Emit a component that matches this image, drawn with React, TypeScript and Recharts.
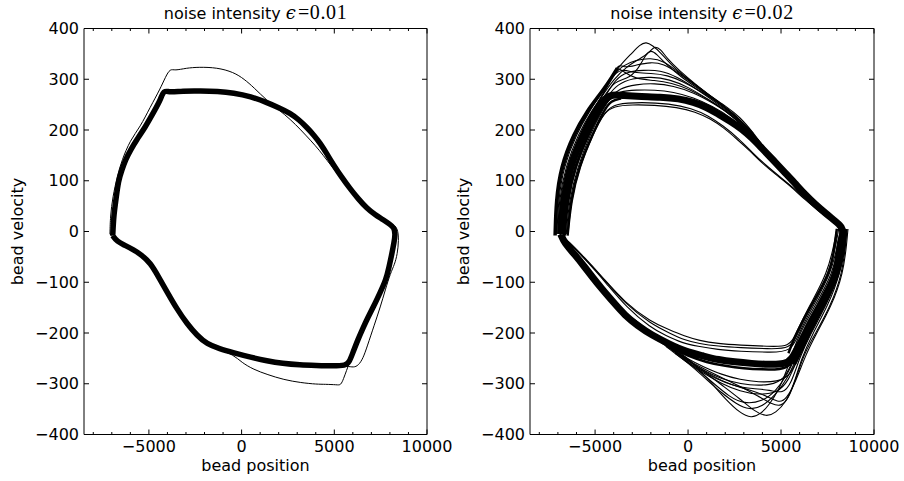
import React from 'react';
import { LineChart, Line, XAxis, YAxis } from 'recharts';

type Pt = [number, number];

// axis values
const xTicks = [-8000, -7000, -6000, -5000, -4000, -3000, -2000, -1000, 0, 1000, 2000, 3000, 4000, 5000, 6000, 7000, 8000, 9000, 10000];
const xLabelled = [-5000, 0, 5000, 10000];
const yTicks = [-400, -300, -200, -100, 0, 100, 200, 300, 400];
const xDomain = [-8500, 10000];
const yDomain = [-400, 400];

// ---- noise 0.01 : settled cycle (drawn thick) and the stray passes
const lowBand: Pt[] = [
  [-6950, -8], [-6900, 30], [-6780, 62], [-6640, 101], [-6450, 122], [-6270, 141], [-5970, 162], [-5670, 180],
  [-5190, 206], [-4700, 238], [-4380, 259], [-4200, 279], [-3900, 274], [-3200, 277], [-2200, 277], [-1300, 276],
  [-430, 273], [500, 266], [1370, 254], [2000, 244], [2625, 233], [3100, 220], [3525, 205], [3900, 190],
  [4240, 174], [4600, 153], [4960, 131], [5400, 107], [5860, 84], [6300, 64], [6750, 46], [7200, 33],
  [7650, 23], [8000, 14], [8220, 8], [8290, -5], [8230, -20], [8100, -45], [7950, -70], [7790, -95],
  [7450, -122], [7115, -148], [6800, -170], [6575, -188], [6260, -214], [5990, -240], [5800, -258], [5600, -264],
  [4960, -265], [4000, -264], [3160, -263], [2200, -260], [1370, -255], [500, -248], [-430, -239], [-1200, -231],
  [-1865, -222], [-2400, -205], [-2940, -182], [-3500, -152], [-4020, -119], [-4500, -88], [-4920, -62], [-5400, -46],
  [-5830, -36], [-6300, -27], [-6715, -20], [-6950, -8],
];
const lowStray: Pt[] = [
  [-7100, -5], [-7080, 30], [-6950, 68], [-6700, 110], [-6460, 140], [-6010, 180], [-5470, 206], [-4930, 245],
  [-4390, 281], [-4100, 305], [-3850, 321], [-3600, 317], [-3000, 322], [-2300, 324], [-1330, 323], [-430, 314],
  [150, 300], [650, 284], [1370, 258], [2000, 240], [2630, 221], [3200, 200], [3710, 180], [4200, 160],
  [4610, 140], [5000, 122], [5500, 98], [5900, 80], [6400, 60], [6900, 42], [7400, 28], [7900, 18],
  [8300, 10], [8360, -8], [8280, -25], [8050, -62], [7800, -98], [7450, -125], [7100, -150], [6700, -177],
  [6350, -208], [6050, -235], [5850, -255], [5650, -275], [5500, -290], [5350, -303], [5150, -302], [4500, -301],
  [4070, -301], [3200, -298], [2270, -292], [1400, -282], [650, -272], [0, -258], [-430, -243], [-1200, -233],
  [-1865, -223], [-2400, -206], [-2940, -184], [-3500, -154], [-4020, -121], [-4500, -90], [-4920, -64], [-5400, -48],
  [-5830, -38], [-6300, -29], [-6715, -21], [-7100, -5],
];
const lowStrayRight: Pt[] = [
  [7650, 23], [8100, 15], [8420, 8], [8480, -17], [8400, -45], [8250, -65], [8030, -82], [7750, -115],
  [7490, -148], [7150, -185], [6770, -227], [6550, -250], [6300, -264], [6040, -268], [5700, -265], [5000, -266],
];

// ---- noise 0.02 : main band plus the spread of individual passes
const highBand: Pt[] = [
  [-6850, -5], [-6780, 30], [-6680, 62], [-6500, 95], [-6330, 127], [-6000, 160], [-5610, 193], [-5280, 218],
  [-4940, 239], [-4480, 262], [-4100, 270], [-3500, 268], [-2500, 266], [-1500, 265], [-500, 262], [300, 255],
  [1000, 245], [1630, 231], [2300, 217], [2890, 202], [3450, 184], [3970, 164], [4600, 140], [5230, 115],
  [5800, 93], [6310, 72], [6850, 53], [7390, 36], [7900, 21], [8290, 9], [8350, -5], [8200, -17],
  [8100, -50], [7960, -83], [7550, -115], [7065, -148], [6650, -175], [6290, -201], [6050, -220], [5820, -234],
  [5600, -250], [5230, -262], [4300, -262], [3430, -260], [2500, -257], [1630, -253], [800, -245], [-170, -236],
  [-1000, -222], [-1960, -204], [-2700, -186], [-3400, -165], [-4000, -140], [-4660, -112], [-5100, -92], [-5560, -70],
  [-6100, -45], [-6640, -23], [-6850, -5],
];
// dense edges of the band
const highLeftOuter: Pt[] = [
  [-7150, -8], [-7100, 60], [-6850, 127], [-6150, 193], [-5400, 239], [-4850, 265], [-4300, 292], [-3800, 322],
];
const highLeftInner: Pt[] = [
  [-6650, -8], [-6500, 60], [-6100, 127], [-5380, 193], [-4720, 239], [-4300, 262], [-3900, 268],
];
const highLeftInnerMost: Pt[] = [
  [-6480, -8], [-6300, 60], [-5870, 127], [-5120, 193], [-4520, 239], [-4140, 258], [-3600, 262],
];
const highRightMid: Pt[] = [
  [8450, 5], [8350, -40], [8100, -83], [7500, -130], [6900, -170], [6350, -212], [6000, -240], [5700, -262],
];
const highRightInner: Pt[] = [
  [8000, 5], [7850, -40], [7600, -83], [6800, -135], [6100, -180], [5650, -215], [5400, -240],
];
const highBottomLow: Pt[] = [
  [-1000, -228], [0, -245], [1000, -258], [2000, -265], [3000, -270], [4000, -272], [5000, -272], [5500, -265],
  [5800, -240],
];
const highUp1: Pt[] = [
  [-7150, -5], [-7080, 60], [-6800, 127], [-6100, 193], [-5350, 240], [-4800, 268], [-4200, 300], [-3600, 330],
  [-3000, 352], [-2600, 368], [-2250, 374], [-1900, 366], [-1530, 355], [-815, 324], [86, 298], [990, 272],
  [2070, 246], [2780, 226], [3500, 195], [4200, 160],
];
const highUp2: Pt[] = [
  [-7000, -5], [-6950, 60], [-6600, 127], [-5900, 193], [-5150, 240], [-4600, 268], [-4000, 300], [-3300, 325],
  [-2600, 340], [-2100, 352], [-1800, 366], [-1500, 360], [-1100, 340], [-500, 318], [400, 290], [1400, 262],
  [2400, 235], [3300, 200], [4000, 168],
];
const highUp3: Pt[] = [
  [-6900, -5], [-6850, 60], [-6500, 127], [-5750, 193], [-5050, 240], [-4500, 275], [-4050, 310], [-3700, 331],
  [-3400, 322], [-2800, 328], [-2000, 334], [-1300, 330], [-600, 314], [300, 290], [1300, 262], [2300, 236],
  [3200, 204], [4000, 170],
];
const highUp4: Pt[] = [
  [-6800, -5], [-6700, 60], [-6300, 127], [-5550, 193], [-4900, 240], [-4400, 270], [-3900, 300], [-3300, 315],
  [-2400, 318], [-1500, 318], [-600, 305], [400, 282], [1500, 254], [2500, 228], [3400, 195], [4100, 165],
];
const highUp5: Pt[] = [
  [-6700, -5], [-6600, 60], [-6200, 127], [-5450, 193], [-4800, 240], [-4300, 268], [-3800, 290], [-3000, 302],
  [-2000, 305], [-1000, 300], [0, 285], [1200, 258], [2300, 232], [3200, 200], [4000, 168],
];
const highUp6: Pt[] = [
  [-6600, -5], [-6500, 60], [-6050, 127], [-5300, 193], [-4650, 240], [-4200, 265], [-3700, 282], [-2800, 290],
  [-1800, 292], [-800, 287], [300, 274], [1400, 252], [2400, 228], [3300, 196], [4000, 168],
];
const highUp7: Pt[] = [
  [-6550, -5], [-6400, 60], [-5950, 127], [-5250, 193], [-4600, 240], [-4150, 265], [-3700, 276], [-2800, 279],
  [-1800, 279], [-800, 275], [300, 264], [1300, 247], [2300, 225], [3200, 196], [4000, 166],
];
const highUp8: Pt[] = [
  [-7050, -5], [-6980, 60], [-6700, 127], [-6000, 193], [-5250, 240], [-4700, 270], [-4100, 305], [-3500, 328],
  [-2800, 338], [-2000, 342], [-1300, 336], [-600, 316], [300, 292], [1300, 264], [2300, 236], [3200, 203],
  [4000, 170],
];
const highUp9: Pt[] = [
  [-6950, -5], [-6900, 60], [-6550, 127], [-5800, 193], [-5100, 240], [-4550, 272], [-4050, 305], [-3800, 325],
  [-3500, 315], [-2800, 300], [-1800, 298], [-900, 293], [100, 280], [1100, 260], [2100, 236], [3000, 206],
  [3900, 170],
];
const highUp10: Pt[] = [
  [-7100, -5], [-7030, 60], [-6750, 127], [-6050, 193], [-5300, 240], [-4750, 270], [-4150, 303], [-3600, 322],
  [-2900, 312], [-2000, 312], [-1100, 308], [-300, 296], [700, 276], [1700, 252], [2600, 226], [3500, 192],
  [4200, 162],
];
const highUp11: Pt[] = [
  [-6850, -5], [-6780, 60], [-6420, 127], [-5680, 193], [-4980, 240], [-4450, 270], [-3950, 296], [-3300, 300],
  [-2700, 318], [-2300, 348], [-2000, 358], [-1700, 350], [-1200, 330], [-400, 305], [600, 280], [1600, 255],
  [2600, 228], [3500, 194],
];
const highIn1: Pt[] = [
  [-6500, -5], [-6350, 60], [-5900, 127], [-5150, 193], [-4500, 235], [-4000, 247], [-3000, 250], [-1800, 249],
  [-600, 245], [400, 236], [1200, 222], [1900, 205], [2600, 183], [3300, 160], [4000, 134], [4800, 110],
  [5500, 90], [6300, 62], [7100, 38], [7800, 20],
];
const highIn2: Pt[] = [
  [-6450, -5], [-6300, 60], [-5850, 127], [-5100, 193], [-4450, 238], [-3900, 252], [-2500, 255], [-1000, 252],
  [200, 243], [1100, 228], [1900, 208], [2700, 184], [3500, 154], [4200, 130], [5000, 106], [5800, 82],
  [6600, 55], [7400, 30], [8000, 15],
];
const highDown1: Pt[] = [
  [8250, 5], [8150, -17], [7800, -83], [6800, -148], [6000, -201], [5600, -240], [5300, -275], [4900, -310],
  [4400, -340], [3900, -360], [3400, -368], [2800, -358], [2000, -330], [1300, -300], [600, -272], [0, -250],
  [-800, -230], [-1800, -205], [-3000, -170],
];
const highDown2: Pt[] = [
  [8500, 5], [8450, -17], [8200, -83], [7500, -148], [6700, -201], [6100, -250], [5700, -300], [5300, -335],
  [4700, -358], [4200, -365], [3600, -355], [2800, -330], [1900, -305], [1000, -280], [200, -258], [-600, -238],
  [-1600, -212], [-3000, -172],
];
const highDown3: Pt[] = [
  [8350, 5], [8300, -17], [8000, -83], [7200, -148], [6400, -201], [5800, -245], [5300, -285], [4700, -315],
  [4000, -335], [3000, -340], [2200, -325], [1400, -300], [600, -275], [0, -258], [-1000, -228], [-2200, -198],
  [-3300, -162],
];
const highDown4: Pt[] = [
  [8400, 5], [8350, -17], [8100, -83], [7300, -148], [6500, -201], [5900, -250], [5400, -295], [4800, -318],
  [3800, -322], [2800, -315], [1800, -300], [800, -278], [0, -260], [-1200, -226],
];
const highDown5: Pt[] = [
  [8300, 5], [8200, -17], [7900, -83], [7000, -148], [6200, -201], [5700, -250], [5200, -292], [4400, -303],
  [3300, -303], [2300, -296], [1300, -283], [300, -262], [-800, -235],
];
const highDown6: Pt[] = [
  [8550, 5], [8500, -17], [8300, -83], [7650, -148], [6850, -201], [6250, -240], [5800, -290], [5400, -330],
  [5000, -345], [4500, -340], [3800, -325], [2800, -305], [1800, -288], [800, -270], [-200, -250], [-1500, -218],
];
const highDown7: Pt[] = [
  [8450, 5], [8400, -17], [8150, -83], [7350, -148], [6550, -201], [5950, -245], [5500, -285], [4800, -296],
  [3800, -297], [2800, -292], [1800, -282], [800, -266], [0, -252], [-1000, -228],
];
const highDown8: Pt[] = [
  [8600, 5], [8550, -17], [8350, -83], [7700, -148], [6900, -201], [6300, -245], [5800, -295], [5300, -330],
  [4900, -338], [4300, -325], [3300, -312], [2300, -302], [1300, -285], [300, -262], [-700, -238],
];
const highDown9: Pt[] = [
  [8380, 5], [8320, -17], [8050, -83], [7250, -148], [6450, -201], [5850, -248], [5350, -290], [4700, -322],
  [4000, -345], [3300, -352], [2600, -340], [1800, -318], [1000, -292], [200, -265], [-700, -240],
];
const highDown10: Pt[] = [
  [8480, 5], [8420, -17], [8180, -83], [7400, -148], [6600, -201], [6000, -248], [5550, -300], [5100, -320],
  [4400, -312], [3500, -310], [2500, -305], [1500, -290], [600, -272], [-300, -250],
];
const highInner1: Pt[] = [
  [8100, 5], [8000, -17], [7600, -83], [6600, -148], [5900, -201], [5500, -232], [4300, -231], [2800, -229],
  [1600, -226], [600, -221], [-200, -214], [-1000, -200], [-2000, -182], [-3400, -142], [-4500, -95], [-5500, -55],
  [-6300, -25], [-6800, -8],
];
const highInner2: Pt[] = [
  [8200, 5], [8100, -17], [7700, -83], [6700, -148], [5950, -201], [5550, -238], [4300, -238], [2800, -236],
  [1600, -233], [500, -226], [-300, -220], [-1200, -205], [-2000, -190], [-3300, -150], [-4400, -102], [-5400, -60],
  [-6200, -30], [-6700, -10],
];
const highInner3: Pt[] = [
  [8000, 5], [7900, -17], [7500, -83], [6500, -148], [5800, -201], [5450, -228], [4300, -226], [2800, -224],
  [1600, -221], [600, -215], [-200, -206], [-1000, -194], [-2000, -178], [-3400, -140], [-4600, -90], [-5600, -50],
  [-6400, -20], [-6900, -5],
];

const FONT = '"DejaVu Sans", sans-serif';
const fmt = (v: number) => (v < 0 ? '\u2212' + Math.abs(v) : String(v));
const rows = (pts: Pt[]) => pts.map(([x, y]) => ({ x, y }));

function BottomTick({ x, y, payload }: any) {
  const major = xLabelled.includes(payload.value);
  return (
    <g>
      <line x1={x} x2={x} y1={y} y2={y - (major ? 5 : 2.5)} stroke="#000" />
      {major && (
        <text x={x} y={y + 17} textAnchor="middle" fontSize={16} fontFamily={FONT} fill="#000">
          {fmt(payload.value)}
        </text>
      )}
    </g>
  );
}

function TopTick({ x, y, payload }: any) {
  const major = xLabelled.includes(payload.value);
  return <line x1={x} x2={x} y1={y} y2={y + (major ? 5 : 2.5)} stroke="#000" />;
}

function LeftTick({ x, y, payload }: any) {
  return (
    <g>
      <line x1={x} x2={x + 5} y1={y} y2={y} stroke="#000" />
      <text x={x - 5} y={y + 5.5} textAnchor="end" fontSize={16} fontFamily={FONT} fill="#000">
        {fmt(payload.value)}
      </text>
    </g>
  );
}

function RightTick({ x, y }: any) {
  return <line x1={x} x2={x - 5} y1={y} y2={y} stroke="#000" />;
}

type Trace = { pts: Pt[]; w: number };

function Panel({ width, margin, traces }: { width: number; margin: any; traces: Trace[] }) {
  const axisLine = { stroke: '#000', strokeWidth: 1 };
  return (
    <LineChart width={width} height={481} margin={margin}>
      <XAxis xAxisId={0} type="number" dataKey="x" domain={xDomain} allowDataOverflow ticks={xTicks} interval={0}
        height={1} tickSize={0} tickMargin={0} tickLine={false} tick={<BottomTick />} axisLine={axisLine} />
      <XAxis xAxisId="top" orientation="top" type="number" dataKey="x" domain={xDomain} allowDataOverflow ticks={xTicks}
        interval={0} height={1} tickSize={0} tickMargin={0} tickLine={false} tick={<TopTick />} axisLine={axisLine} />
      <YAxis yAxisId={0} type="number" domain={yDomain} allowDataOverflow ticks={yTicks} interval={0}
        width={1} tickSize={0} tickMargin={0} tickLine={false} tick={<LeftTick />} axisLine={axisLine} />
      <YAxis yAxisId="right" orientation="right" type="number" domain={yDomain} allowDataOverflow ticks={yTicks}
        interval={0} width={1} tickSize={0} tickMargin={0} tickLine={false} tick={<RightTick />} axisLine={axisLine} />
      {traces.map((t, i) => (
        <Line key={i} data={rows(t.pts)} dataKey="y" type="basis" dot={false} activeDot={false}
          stroke="#000" strokeWidth={t.w} isAnimationActive={false} />
      ))}
    </LineChart>
  );
}

function Title({ cx, value }: { cx: number; value: string }) {
  return (
    <text x={cx} y={19} textAnchor="middle" fontSize={16} fontFamily={FONT} fill="#000">
      noise intensity{' '}
      <tspan fontFamily='"DejaVu Serif", serif' fontStyle="italic" fontSize={18}>ϵ</tspan>
      <tspan fontFamily='"Liberation Serif", serif' fontSize={20} dx={2} letterSpacing={0.6}>={value}</tspan>
    </text>
  );
}

export default function App() {
  const lowTraces: Trace[] = [
    { pts: lowBand, w: 5.5 },
    { pts: lowStray, w: 1 },
    { pts: lowStrayRight, w: 1 },
  ];
  const highTraces: Trace[] = [
    { pts: highBand, w: 7 },
    { pts: highLeftOuter, w: 3.5 },
    { pts: highLeftInner, w: 3 },
    { pts: highLeftInnerMost, w: 2.5 },
    { pts: highRightMid, w: 4 },
    { pts: highRightInner, w: 2.5 },
    { pts: highBottomLow, w: 2.5 },
    ...[highUp1, highUp2, highUp3, highUp4, highUp5, highUp6, highUp7, highUp8, highUp9, highUp10, highUp11,
      highIn1, highIn2].map((pts) => ({ pts, w: 1.1 })),
    ...[highDown1, highDown2, highDown3, highDown4, highDown5, highDown6, highDown7, highDown8, highDown9,
      highDown10, highInner1, highInner2, highInner3].map((pts) => ({ pts, w: 1.1 })),
  ];

  return (
    <div style={{ position: 'absolute', left: 0, top: 0, width: 904, height: 481, background: '#fff' }}>
      <div style={{ position: 'absolute', left: 0, top: 0 }}>
        <Panel width={470} margin={{ top: 27.5, right: 42, bottom: 45.5, left: 83 }} traces={lowTraces} />
      </div>
      <div style={{ position: 'absolute', left: 452, top: 0 }}>
        <Panel width={452} margin={{ top: 27.5, right: 29, bottom: 45.5, left: 77 }} traces={highTraces} />
      </div>
      <svg width={904} height={481} style={{ position: 'absolute', left: 0, top: 0, pointerEvents: 'none' }}>
        <Title cx={255.5} value="0.01" />
        <Title cx={702} value="0.02" />
        <text x={255.5} y={471} textAnchor="middle" fontSize={16} fontFamily={FONT}>bead position</text>
        <text x={702} y={471} textAnchor="middle" fontSize={16} fontFamily={FONT}>bead position</text>
        <text transform="translate(23,231.5) rotate(-90)" textAnchor="middle" fontSize={16} fontFamily={FONT}>bead velocity</text>
        <text transform="translate(469,231.5) rotate(-90)" textAnchor="middle" fontSize={16} fontFamily={FONT}>bead velocity</text>
      </svg>
    </div>
  );
}
